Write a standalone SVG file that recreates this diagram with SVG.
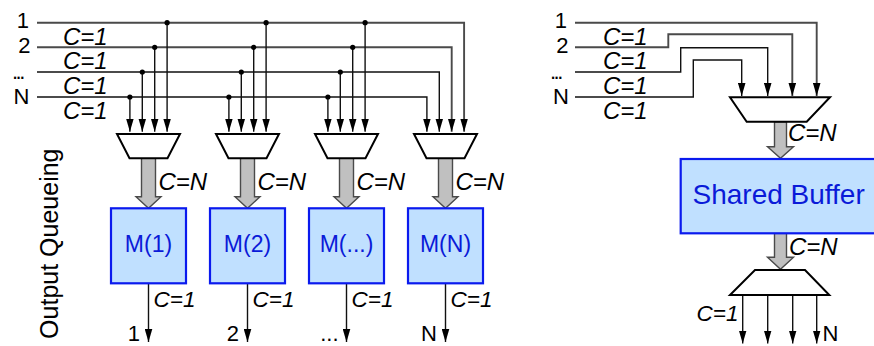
<svg xmlns="http://www.w3.org/2000/svg" width="874" height="346" viewBox="0 0 874 346">
<style>
text{font-family:"Liberation Sans",Arial,sans-serif;fill:#000}
.lbl{font-size:22px}
.lbo{font-size:22px}
.cap{font-size:24px;font-style:italic}
.cap2{font-size:22.5px;font-style:italic}
.w{fill:none;stroke:#111;stroke-width:1.4}
.w1{fill:none;stroke:#4a4a4a;stroke-width:1.9}
.mux{fill:#fff;stroke:#000;stroke-width:2;stroke-linejoin:miter}
.fat{fill:#c0c0c0;stroke:#4a4a4a;stroke-width:1.4}
.box{fill:#c0e0ff;stroke:#0a1aee;stroke-width:2.2}
.bt{font-size:23px;fill:#0a1ad8}
.dot{fill:#000}
</style>
<defs>
<marker id="ah" markerUnits="userSpaceOnUse" markerWidth="13" markerHeight="8" refX="13" refY="4" orient="auto">
<path d="M0,0.2 L13,4 L0,7.8 z" fill="#000"/>
</marker>
</defs>

<g id="connectors">
<path class="w1" d="M37,22.7 H464.1 V131.7" marker-end="url(#ah)"/>
<path class="w1" d="M37,47.3 H451.7 V131.7" marker-end="url(#ah)"/>
<path class="w" d="M37,72 H439.3 V131.7" marker-end="url(#ah)"/>
<path class="w" d="M37,97 H426.9 V131.7" marker-end="url(#ah)"/>
<path class="w" d="M167.1,22.7 V131.7" marker-end="url(#ah)"/>
<path class="w" d="M154.7,47.3 V131.7" marker-end="url(#ah)"/>
<path class="w" d="M142.3,72 V131.7" marker-end="url(#ah)"/>
<path class="w" d="M129.9,97 V131.7" marker-end="url(#ah)"/>
<path class="w" d="M266.1,22.7 V131.7" marker-end="url(#ah)"/>
<path class="w" d="M253.7,47.3 V131.7" marker-end="url(#ah)"/>
<path class="w" d="M241.3,72 V131.7" marker-end="url(#ah)"/>
<path class="w" d="M228.9,97 V131.7" marker-end="url(#ah)"/>
<path class="w" d="M365.1,22.7 V131.7" marker-end="url(#ah)"/>
<path class="w" d="M352.7,47.3 V131.7" marker-end="url(#ah)"/>
<path class="w" d="M340.3,72 V131.7" marker-end="url(#ah)"/>
<path class="w" d="M327.9,97 V131.7" marker-end="url(#ah)"/>
<g>
<circle class="dot" cx="167.1" cy="22.7" r="2.6"/><circle class="dot" cx="154.7" cy="47.3" r="2.6"/><circle class="dot" cx="142.3" cy="72" r="2.6"/><circle class="dot" cx="129.9" cy="97" r="2.6"/>
<circle class="dot" cx="266.1" cy="22.7" r="2.6"/><circle class="dot" cx="253.7" cy="47.3" r="2.6"/><circle class="dot" cx="241.3" cy="72" r="2.6"/><circle class="dot" cx="228.9" cy="97" r="2.6"/>
<circle class="dot" cx="365.1" cy="22.7" r="2.6"/><circle class="dot" cx="352.7" cy="47.3" r="2.6"/><circle class="dot" cx="340.3" cy="72" r="2.6"/><circle class="dot" cx="327.9" cy="97" r="2.6"/>
</g>
<polygon class="fat" points="141.5,158.3 155.5,158.3 155.5,196.7 161,196.7 148.5,208.3 136,196.7 141.5,196.7"/>
<polygon class="fat" points="240.5,158.3 254.5,158.3 254.5,196.7 260,196.7 247.5,208.3 235,196.7 240.5,196.7"/>
<polygon class="fat" points="339.5,158.3 353.5,158.3 353.5,196.7 359,196.7 346.5,208.3 334,196.7 339.5,196.7"/>
<polygon class="fat" points="438.5,158.3 452.5,158.3 452.5,196.7 458,196.7 445.5,208.3 433,196.7 438.5,196.7"/>
<path class="w" d="M148.5,283.3 V342" marker-end="url(#ah)"/>
<path class="w" d="M247.5,283.3 V342" marker-end="url(#ah)"/>
<path class="w" d="M346.5,283.3 V342" marker-end="url(#ah)"/>
<path class="w" d="M445.5,283.3 V342" marker-end="url(#ah)"/>
<path class="w1" d="M575,22.7 H816.7 V96" marker-end="url(#ah)"/>
<path class="w1" d="M575,47.3 H668.3 V34.3 H792.3 V96" marker-end="url(#ah)"/>
<path class="w" d="M575,72 H680.7 V47.7 H767.7 V96" marker-end="url(#ah)"/>
<path class="w" d="M575,97 H693.3 V60 H741.7 V96" marker-end="url(#ah)"/>
<polygon class="fat" points="774.5,121.7 786.5,121.7 786.5,146.7 793.5,146.7 780.5,158.3 767.5,146.7 774.5,146.7"/>
<polygon class="fat" points="774.5,233.3 786.5,233.3 786.5,257.3 793.5,257.3 780.5,269.3 767.5,257.3 774.5,257.3"/>
<path class="w" d="M742.7,295 V343.5" marker-end="url(#ah)"/>
<path class="w" d="M767.7,295 V343.5" marker-end="url(#ah)"/>
<path class="w" d="M792.7,295 V343.5" marker-end="url(#ah)"/>
<path class="w" d="M816.7,295 V343.5" marker-end="url(#ah)"/>
</g>

<g id="mux1"><polygon class="mux" points="117,134 180,134 167.5,158.3 129.5,158.3"/></g>
<g id="mux2"><polygon class="mux" points="216,134 279,134 266.5,158.3 228.5,158.3"/></g>
<g id="mux3"><polygon class="mux" points="315,134 378,134 365.5,158.3 327.5,158.3"/></g>
<g id="mux4"><polygon class="mux" points="414,134 477,134 464.5,158.3 426.5,158.3"/></g>

<g id="m1"><rect class="box" x="111" y="208.3" width="75" height="75"/><text class="bt" x="148.5" y="252" text-anchor="middle">M(1)</text></g>
<g id="m2"><rect class="box" x="210" y="208.3" width="75" height="75"/><text class="bt" x="247.5" y="252" text-anchor="middle">M(2)</text></g>
<g id="m3"><rect class="box" x="309" y="208.3" width="75" height="75"/><text class="bt" x="346.5" y="252" text-anchor="middle">M(...)</text></g>
<g id="mN"><rect class="box" x="408" y="208.3" width="75" height="75"/><text class="bt" x="445.5" y="252" text-anchor="middle">M(N)</text></g>

<g id="rmux"><polygon class="mux" points="730,97.3 830,97.3 806.7,121.7 746.7,121.7"/></g>
<g id="shared"><rect class="box" x="680.7" y="159" width="200" height="74.3"/><text class="bt" x="692.5" y="204" style="font-size:28px">Shared Buffer</text></g>
<g id="rdemux"><polygon class="mux" points="755,270 805,270 829.3,295 730,295"/></g>

<g id="labels">
<text class="lbl" x="29" y="27.5" text-anchor="end">1</text>
<text class="lbl" x="30.5" y="53" text-anchor="end">2</text>
<text class="lbl" x="12" y="78.5" style="letter-spacing:-2.5px">...</text>
<text class="lbl" x="29.5" y="103.5" text-anchor="end">N</text>
<text class="cap" x="63" y="44.5">C=1</text>
<text class="cap" x="63" y="69">C=1</text>
<text class="cap" x="63" y="93.5">C=1</text>
<text class="cap" x="63" y="118.5">C=1</text>

<text class="cap" x="158.5" y="189.5">C=N</text>
<text class="cap" x="257.5" y="189.5">C=N</text>
<text class="cap" x="356.5" y="189.5">C=N</text>
<text class="cap" x="455.5" y="189.5">C=N</text>

<text class="cap2" x="153.5" y="307">C=1</text>
<text class="cap2" x="252.5" y="307">C=1</text>
<text class="cap2" x="351.5" y="307">C=1</text>
<text class="cap2" x="450.5" y="307">C=1</text>

<text class="lbo" x="140" y="341" text-anchor="end">1</text>
<text class="lbo" x="239" y="341" text-anchor="end">2</text>
<text class="lbo" x="338.5" y="341" text-anchor="end">...</text>
<text class="lbo" x="437" y="341" text-anchor="end">N</text>

<text class="lbl" x="567" y="27.5" text-anchor="end">1</text>
<text class="lbl" x="568.5" y="53" text-anchor="end">2</text>
<text class="lbl" x="550" y="78.5" style="letter-spacing:-2.5px">...</text>
<text class="lbl" x="569" y="103.5" text-anchor="end">N</text>
<text class="cap" x="603" y="44.5">C=1</text>
<text class="cap" x="603" y="69">C=1</text>
<text class="cap" x="603" y="93.5">C=1</text>
<text class="cap" x="603" y="118.5">C=1</text>

<text class="cap" x="788" y="140.5">C=N</text>
<text class="cap" x="789" y="254.5">C=N</text>
<text class="cap2" x="696.5" y="320.5">C=1</text>
<text class="lbo" x="822.5" y="341">N</text>

<text x="0" y="0" transform="translate(57.5,243.7) rotate(-90)" text-anchor="middle" style="font-size:25px">Output Queueing</text>
</g>
</svg>
